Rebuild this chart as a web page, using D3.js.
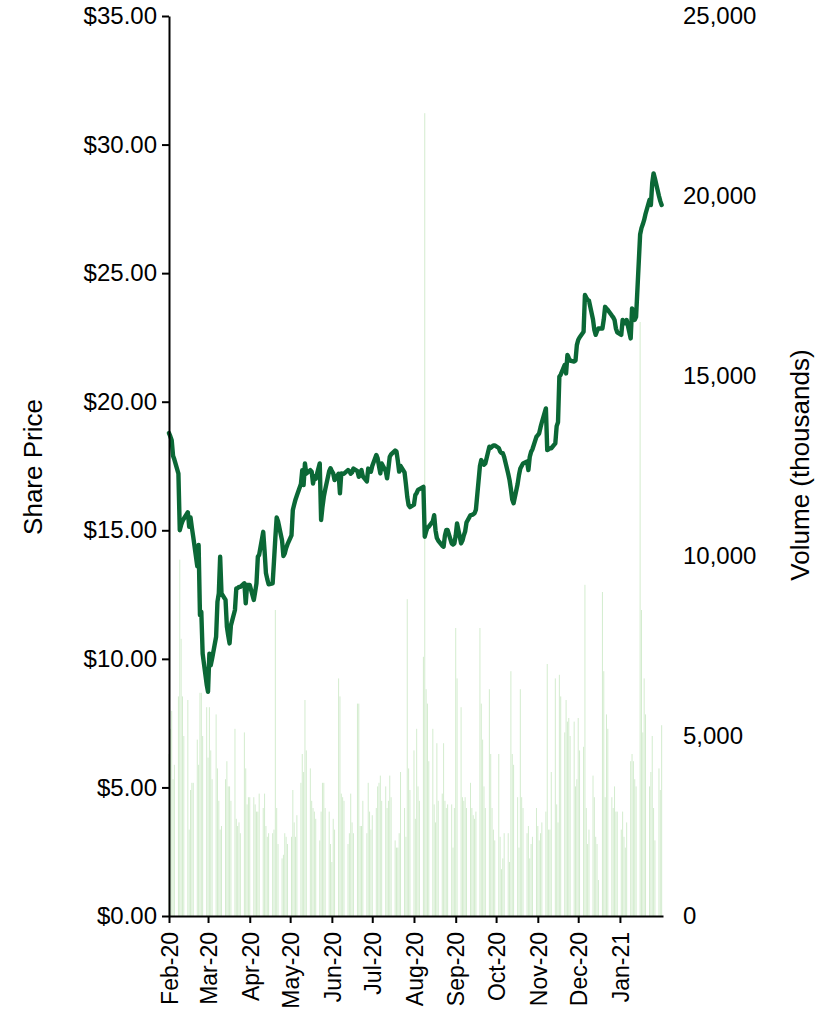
<!DOCTYPE html>
<html>
<head>
<meta charset="utf-8">
<script src="https://cdn.jsdelivr.net/npm/d3@7"></script>
<style>
  body { margin: 0; background: #fff; }
  svg { display: block; }
  text { font-family: Arial, "Liberation Sans", sans-serif; fill: #000; }
</style>
</head>
<body>
<svg id="chart" width="825" height="1009"></svg>
<script>
// Trading period (weekdays only)
const firstDay = "2020-02-03";
const lastDay = "2021-02-03";

// Daily closing share price ($), one row per week
const price = [
  18.78, 18.65, 18.50, 17.90, 17.75,
  17.20, 15.00, 15.20, 15.35, 15.45,
  15.70, 15.14, 15.50, 15.10, 14.75,
  13.60, 14.43, 11.70, 11.83, 10.20,
  9.00, 8.72, 10.20, 9.75, 10.00,
  10.86, 12.22, 12.55, 13.97, 12.55,
  12.29, 11.25, 10.90, 10.60, 11.30,
  11.90, 12.74, 12.75, 12.80, 12.80,
  12.94, 12.16, 12.87, 12.87, 12.87,
  12.29, 12.60, 12.94, 13.97, 14.05,
  14.94, 14.20, 13.34, 13.10, 12.90,
  12.94, 13.80, 14.70, 15.50, 15.35,
  14.60, 14.00, 14.10, 14.30, 14.45,
  14.80, 15.79, 16.00, 16.20, 16.35,
  16.80, 17.34, 16.76, 17.60, 17.20,
  17.34, 17.28, 16.82, 17.10, 17.00,
  17.60, 15.40, 15.90, 16.30, 16.57,
  17.30, 17.41, 17.30, 17.21, 16.95,
  17.20, 16.44, 17.21, 17.20, 17.20,
  17.34, 17.30, 17.20, 17.25, 17.40,
  17.30, 17.08, 17.20, 17.34, 17.10,
  16.90, 17.40, 17.35, 17.28, 17.50,
  17.93, 17.80, 17.50, 17.21, 17.60,
  17.30, 17.02, 17.40, 17.86, 17.95,
  18.10, 18.06, 17.70, 17.28, 17.50,
  17.25, 16.80, 16.30, 15.98, 15.90,
  16.00, 16.37, 16.45, 16.57, 16.60,
  16.69, 14.75, 14.95, 15.10, 15.14,
  15.35, 15.59, 15.00, 14.70, 14.60,
  14.40, 14.36, 14.80, 15.01, 15.01,
  14.49, 14.45, 14.49, 14.80, 15.27,
  14.49, 14.60, 14.80, 14.95, 15.30,
  15.59, 15.60, 15.62, 15.66, 15.80,
  17.50, 17.73, 17.65, 17.55, 17.60,
  18.25, 18.20, 18.25, 18.30, 18.30,
  18.20, 18.06, 18.00, 18.00, 17.85,
  17.20, 16.95, 16.60, 16.20, 16.05,
  16.80, 17.15, 17.40, 17.50, 17.60,
  17.67, 17.34, 17.85, 18.05, 18.15,
  18.64, 18.70, 18.77, 19.00, 19.20,
  19.74, 18.12, 18.15, 18.19, 18.19,
  18.38, 19.05, 19.20, 20.97, 21.05,
  21.43, 21.10, 21.82, 21.70, 21.60,
  21.56, 21.60, 22.20, 22.40, 22.50,
  22.72, 24.15, 24.05, 23.96, 23.93,
  23.20, 22.79, 22.60, 22.75, 22.85,
  22.85, 23.20, 23.69, 23.62, 23.57,
  23.35, 23.28, 23.18, 22.85, 22.70,
  22.60, 23.18, 23.10, 23.05, 23.18,
  22.46, 23.63, 23.50, 23.18, 23.30,
  26.50, 26.75, 26.90, 27.07, 27.30,
  27.85, 27.65, 28.50, 28.88, 28.68,
  28.00, 27.80, 27.65
];

// Daily traded volume (thousands of shares), one row per week
const volume = [
  4500, 5200, 5700, 3800, 4200,
  6100, 9900, 7700, 6100, 5000,
  6000, 2400, 3500, 3700, 3700,
  4900, 4200, 6200, 6200, 5000,
  5800, 4400, 5800, 4600, 3800,
  5600, 4100, 3200, 2400, 2500,
  3800, 4300, 3600, 3600, 3200,
  5200, 2700, 2500, 2600, 2300,
  5100, 4100, 3100, 3300, 3300,
  3300, 3100, 2900, 2900, 3400,
  3000, 3400, 2500, 2200, 2300,
  2300, 2400, 8500, 3000, 2000,
  1600, 1700, 2300, 2200, 2000,
  2200, 3500, 2600, 2200, 2800,
  3700, 4500, 4000, 6000, 4600,
  4100, 3200, 3000, 2900, 2700,
  2100, 2900, 3700, 3700, 3000,
  2900, 2000, 1500, 2700, 2400,
  6600, 6100, 3400, 3300, 3200,
  2000, 2300, 3400, 2600, 2300,
  5900, 5900, 2500, 2500, 3200,
  2300, 3700, 2900, 2400, 2800,
  3000, 3600, 3700, 3900, 3200,
  3600, 3000, 3200, 3900, 3300,
  2100, 1900, 1900, 2300, 4000,
  3000, 2200, 8800, 4100, 3500,
  4600, 2700, 5200, 3600, 3200,
  7200, 22300, 6300, 5900, 4300,
  5200, 3100, 2600, 4800, 3200,
  3400, 4800, 3200, 3000, 3100,
  3100, 1900, 3000, 8000, 6600,
  5800, 3300, 3200, 3300, 3000,
  3700, 3000, 2800, 2700, 2900,
  8000, 5900, 4900, 3600, 3000,
  6300, 4500, 3000, 2400, 2100,
  4500, 2200, 1300, 1600, 2300,
  2300, 1500, 6800, 4500, 4200,
  3300, 1900, 6300, 3300, 3000,
  2300, 2500, 1600, 2000, 2200,
  3000, 2500, 2100, 2300, 2600,
  2900, 7000, 2400, 2400, 4000,
  6600, 3100, 2600, 6700, 6100,
  5100, 6000, 5400, 5500, 5000,
  5400, 3600, 3800, 5500, 4600,
  4700, 9200, 3000, 2000, 2400,
  3900, 3300, 2200, 2000, 1000,
  9000, 6800, 3300, 5600, 5200,
  3300, 3000, 3600, 2900, 2900,
  2400, 2900, 2200, 1900, 2600,
  4300, 4500, 4300, 3800, 3600,
  16500, 8500, 5100, 6600, 5600,
  3600, 4000, 5000, 3000, 2100,
  4100, 3500, 5300
];

const priceTicks = [0, 5, 10, 15, 20, 25, 30, 35];
const volumeTicks = [0, 5000, 10000, 15000, 20000, 25000];
const monthTicks = [
  "2020-02-03", "2020-03-03", "2020-04-03", "2020-05-03", "2020-06-03", "2020-07-03",
  "2020-08-03", "2020-09-03", "2020-10-03", "2020-11-03", "2020-12-03", "2021-01-03"
];

const parse = d3.utcParse("%Y-%m-%d");
const start = parse(firstDay);
const end = d3.utcDay.offset(parse(lastDay), 1);
const days = d3.utcDay.range(start, end).filter(d => d.getUTCDay() % 6 !== 0);
const rows = days.map((date, i) => ({ date, price: price[i], volume: volume[i] }));

const plot = { left: 169, right: 663, top: 16, bottom: 916 };

const x = d3.scaleUtc().domain([start, end]).range([plot.left, plot.right]);
const yPrice = d3.scaleLinear().domain([0, 35]).range([plot.bottom, plot.top]);
const yVolume = d3.scaleLinear().domain([0, 25000]).range([plot.bottom, plot.top]);

const svg = d3.select("#chart");

// Volume columns on the secondary axis
svg.append("g")
  .selectAll("rect")
  .data(rows)
  .join("rect")
  .attr("x", d => x(d.date) - 0.5)
  .attr("width", 1)
  .attr("y", d => yVolume(d.volume))
  .attr("height", d => plot.bottom - yVolume(d.volume))
  .attr("fill", "#d3ecce");

// Share price line
svg.append("path")
  .datum(rows)
  .attr("fill", "none")
  .attr("stroke", "#0b6836")
  .attr("stroke-width", 4.4)
  .attr("stroke-linejoin", "round")
  .attr("stroke-linecap", "round")
  .attr("d", d3.line().x(d => x(d.date)).y(d => yPrice(d.price)));

// Left axis: share price
svg.append("g")
  .attr("transform", `translate(${plot.left},0)`)
  .call(d3.axisLeft(yPrice).tickValues(priceTicks)
    .tickFormat(d => "$" + d.toFixed(2)).tickSize(7).tickSizeOuter(0).tickPadding(5));

// Right axis: volume (labels only)
const rightAxis = svg.append("g")
  .attr("transform", `translate(${plot.right},0)`)
  .call(d3.axisRight(yVolume).tickValues(volumeTicks)
    .tickFormat(d3.format(",")).tickSize(0).tickPadding(20));
rightAxis.select(".domain").remove();

// Bottom axis: months
const bottomAxis = svg.append("g")
  .attr("transform", `translate(0,${plot.bottom})`)
  .call(d3.axisBottom(x).tickValues(monthTicks.map(parse))
    .tickFormat(d3.utcFormat("%b-%y")).tickSize(7).tickSizeOuter(0));

svg.selectAll(".domain, .tick line").attr("stroke", "#000").attr("stroke-width", 2);
svg.selectAll(".tick text").attr("font-size", 24).attr("fill", "#000");

bottomAxis.selectAll(".tick text")
  .attr("transform", "rotate(-90)")
  .attr("text-anchor", "end")
  .attr("font-size", 23)
  .attr("x", -16)
  .attr("y", 0)
  .attr("dy", "0.36em");

// Axis titles
svg.append("text")
  .attr("transform", "translate(33,467) rotate(-90)")
  .attr("text-anchor", "middle")
  .attr("dominant-baseline", "central")
  .attr("font-size", 26)
  .text("Share Price");

svg.append("text")
  .attr("transform", "translate(800,465) rotate(-90)")
  .attr("text-anchor", "middle")
  .attr("dominant-baseline", "central")
  .attr("font-size", 26)
  .text("Volume (thousands)");
</script>
</body>
</html>
